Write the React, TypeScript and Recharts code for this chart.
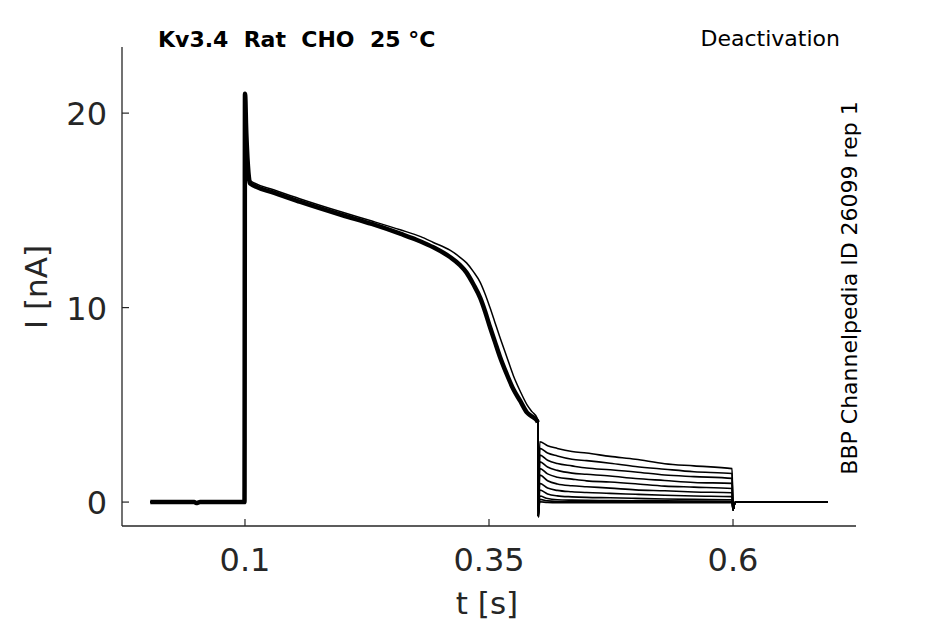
import React from 'react';
import { LineChart, Line, XAxis, YAxis } from 'recharts';

// time base (s) for the shared activation part of all sweeps
const activationTimes = [0.003, 0.048, 0.05, 0.054, 0.0995, 0.1, 0.1005, 0.101, 0.102, 0.103, 0.104, 0.105, 0.13, 0.156, 0.2, 0.23, 0.259, 0.28, 0.293, 0.31, 0.32, 0.327, 0.334, 0.341, 0.346, 0.351, 0.356, 0.361, 0.368, 0.375, 0.382, 0.389, 0.394, 0.399, 0.4];
const activationBundle = [0, 0, -0.05, 0, 0, 21.0, 20.6, 19.5, 18.2, 17.3, 16.7, 16.4, 15.9, 15.45, 14.75, 14.3, 13.8, 13.4, 13.1, 12.6, 12.2, 11.8, 11.2, 10.5, 9.8, 9.0, 8.25, 7.5, 6.6, 5.8, 5.2, 4.6, 4.4, 4.2, 4.1];
const activationOutlier = [0, 0, -0.05, 0, 0, 21.0, 20.6, 19.5, 18.2, 17.3, 16.8, 16.55, 16.05, 15.6, 14.9, 14.45, 14.0, 13.65, 13.35, 12.95, 12.6, 12.3, 11.85, 11.3, 10.7, 10.0, 9.25, 8.5, 7.5, 6.5, 5.7, 5.0, 4.65, 4.35, 4.2];

// negative capacitive blip at the step to the tail potential
const stepTime = 0.4005;
const stepValue = -0.75;

// tail currents, one array per sweep
const tailTimes = [0.402, 0.41, 0.42, 0.435, 0.45, 0.474, 0.5, 0.53, 0.56, 0.599];
const tail1 = [3.1, 2.9, 2.76, 2.6, 2.52, 2.35, 2.2, 1.97, 1.86, 1.72];
const tail2 = [2.76, 2.52, 2.37, 2.2, 2.13, 2.0, 1.83, 1.69, 1.56, 1.47];
const tail3 = [2.42, 2.15, 1.98, 1.86, 1.75, 1.66, 1.55, 1.39, 1.31, 1.22];
const tail4 = [2.07, 1.8, 1.63, 1.49, 1.43, 1.34, 1.21, 1.11, 1.01, 0.96];
const tail5 = [1.73, 1.45, 1.28, 1.18, 1.09, 1.03, 0.94, 0.82, 0.77, 0.7];
const tail6 = [1.39, 1.1, 0.93, 0.84, 0.79, 0.72, 0.63, 0.58, 0.52, 0.48];
const tail7 = [0.96, 0.72, 0.6, 0.53, 0.49, 0.45, 0.4, 0.35, 0.31, 0.28];
const tail8 = [0.62, 0.42, 0.32, 0.27, 0.24, 0.22, 0.19, 0.16, 0.14, 0.12];
const tail9 = [0.31, 0.18, 0.12, 0.1, 0.09, 0.08, 0.07, 0.06, 0.05, 0.04];
const tail10 = [0.14, 0.06, 0.03, 0.02, 0.02, 0.02, 0.01, 0.01, 0, 0];
const tail11 = [0.02, -0.02, -0.03, -0.03, -0.03, -0.03, -0.03, -0.03, -0.03, -0.03];
const tails = [tail1, tail2, tail3, tail4, tail5, tail6, tail7, tail8, tail9, tail10, tail11];

// return to holding potential
const postTimes = [0.6, 0.6015, 0.603, 0.697];
const postValues = [-0.4, -0.1, 0, 0];

const xTicks = [0.1, 0.35, 0.6];
const xTickLabels = ['0.1', '0.35', '0.6'];
const yTicks = [0, 10, 20];
const yTickLabels = ['0', '10', '20'];

const title = 'Kv3.4  Rat  CHO  25 °C';
const protocol = 'Deactivation';
const sideNote = 'BBP Channelpedia ID 26099 rep 1';

const INK = '#262626';
const FONT = '"DejaVu Sans", Verdana, sans-serif';

type Row = { [k: string]: number | undefined };

const buildRows = (): Row[] => {
  const rows: Row[] = [];
  activationTimes.forEach((t, i) => {
    const row: Row = { t, bundle: activationBundle[i], outlier: activationOutlier[i] };
    tails.forEach((_, s) => (row[`s${s}`] = activationBundle[i]));
    rows.push(row);
  });
  const step: Row = { t: stepTime };
  tails.forEach((_, s) => (step[`s${s}`] = stepValue));
  rows.push(step);
  tailTimes.forEach((t, k) => {
    const row: Row = { t };
    tails.forEach((tail, s) => (row[`s${s}`] = tail[k]));
    rows.push(row);
  });
  postTimes.forEach((t, k) => {
    const row: Row = { t };
    tails.forEach((_, s) => (row[`s${s}`] = postValues[k]));
    rows.push(row);
  });
  return rows;
};

const data = buildRows();

const XTick = (props: any) => {
  const { x, y, payload, index } = props;
  return (
    <g>
      <line x1={x} x2={x} y1={y} y2={y - 7} stroke={INK} strokeWidth={1.2} />
      <text x={x} y={y + 34} textAnchor="middle" dominantBaseline="central" fill={INK} fontSize={32} fontFamily={FONT}>
        {xTickLabels[index] ?? payload.value}
      </text>
    </g>
  );
};

const YTick = (props: any) => {
  const { x, y, payload, index } = props;
  return (
    <g>
      <line x1={x} x2={x + 7} y1={y} y2={y} stroke={INK} strokeWidth={1.2} />
      <text x={x - 15} y={y + 1} textAnchor="end" dominantBaseline="central" fill={INK} fontSize={32} fontFamily={FONT}>
        {yTickLabels[index] ?? payload.value}
      </text>
    </g>
  );
};

export default function App() {
  return (
    <div style={{ position: 'absolute', left: 0, top: 0, width: 945, height: 624, background: '#fff' }}>
      <LineChart width={945} height={624} data={data} margin={{ top: 47, right: 89, left: 62, bottom: 68 }}>
        <XAxis
          type="number"
          dataKey="t"
          domain={[-0.026, 0.726]}
          ticks={xTicks}
          allowDataOverflow
          height={30}
          tickSize={0}
          tickMargin={0}
          tickLine={false}
          axisLine={{ stroke: INK, strokeWidth: 1.3 }}
          tick={<XTick />}
        />
        <YAxis
          type="number"
          domain={[-1.23, 23.4]}
          ticks={yTicks}
          allowDataOverflow
          width={60}
          tickSize={0}
          tickMargin={0}
          tickLine={false}
          axisLine={{ stroke: INK, strokeWidth: 1.3 }}
          tick={<YTick />}
        />
        <Line dataKey="bundle" type="monotone" stroke="#000" strokeWidth={4.5} dot={false} isAnimationActive={false} />
        <Line dataKey="outlier" type="monotone" stroke="#000" strokeWidth={1.5} dot={false} isAnimationActive={false} />
        {tails.map((_, s) => (
          <Line key={s} dataKey={`s${s}`} type="monotone" stroke="#000" strokeWidth={1.6} dot={false} isAnimationActive={false} />
        ))}
      </LineChart>
      <svg width={945} height={624} style={{ position: 'absolute', left: 0, top: 0, pointerEvents: 'none' }}>
        <text x={158} y={47} fontSize={22} fontWeight="bold" fontFamily={FONT} fill="#000" style={{ whiteSpace: 'pre' }}>
          {title}
        </text>
        <text x={840} y={46} textAnchor="end" fontSize={22} fontFamily={FONT} fill="#000">
          {protocol}
        </text>
        <text
          x={857}
          y={288}
          textAnchor="middle"
          fontSize={22}
          fontFamily={FONT}
          fill="#000"
          transform="rotate(-90 857 288)"
        >
          {sideNote}
        </text>
        <text x={487} y={614} textAnchor="middle" fontSize={31} fontFamily={FONT} fill={INK}>
          t [s]
        </text>
        <text x={47} y={287} textAnchor="middle" fontSize={31} fontFamily={FONT} fill={INK} transform="rotate(-90 47 287)">
          I [nA]
        </text>
      </svg>
    </div>
  );
}
